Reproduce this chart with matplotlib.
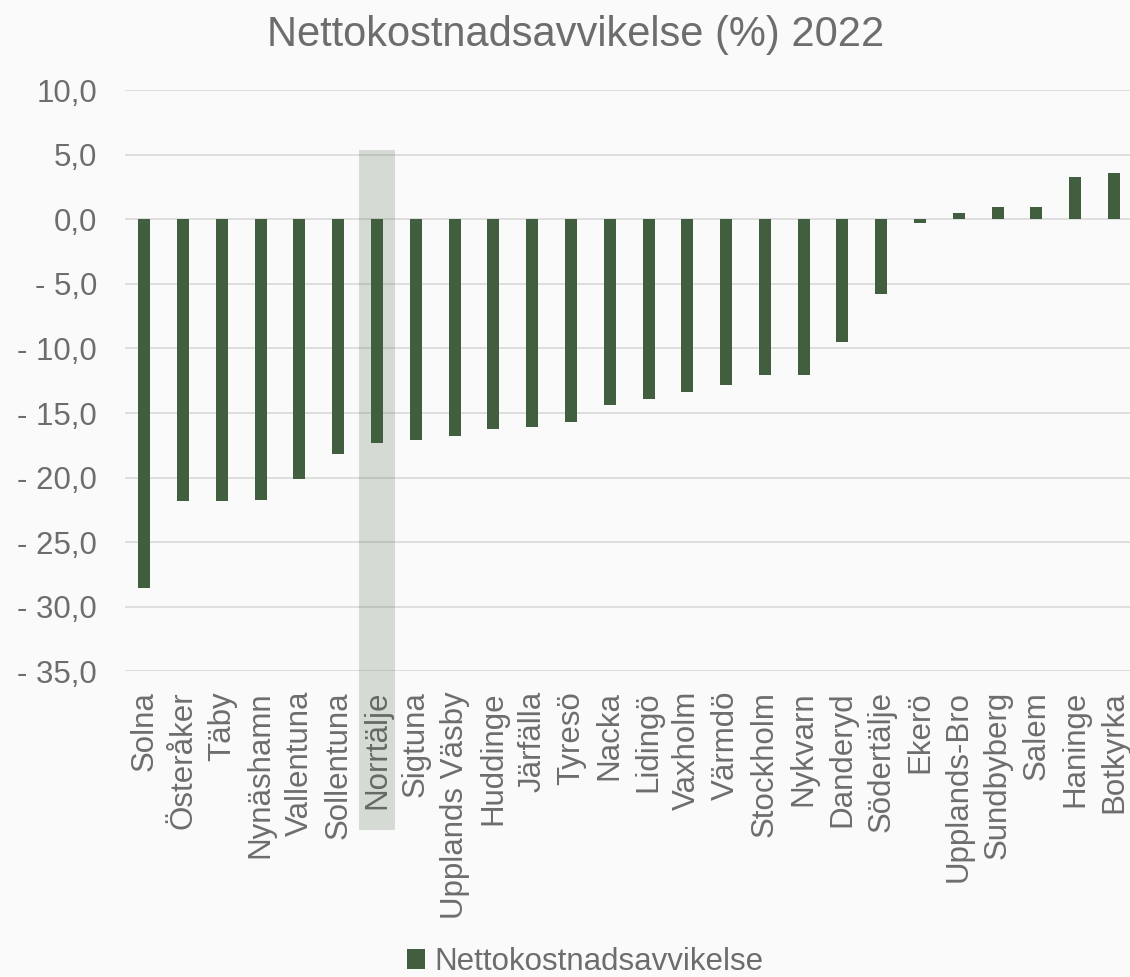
import matplotlib.pyplot as plt
from matplotlib.patches import Rectangle, Patch
from matplotlib.ticker import FuncFormatter

kommuner = ["Solna", "Österåker", "Täby", "Nynäshamn", "Vallentuna", "Sollentuna",
            "Norrtälje", "Sigtuna", "Upplands Väsby", "Huddinge", "Järfälla", "Tyresö",
            "Nacka", "Lidingö", "Vaxholm", "Värmdö", "Stockholm", "Nykvarn", "Danderyd",
            "Södertälje", "Ekerö", "Upplands-Bro", "Sundbyberg", "Salem", "Haninge",
            "Botkyrka"]
avvikelse = [-28.5, -21.8, -21.8, -21.75, -20.1, -18.2, -17.3, -17.1, -16.75, -16.25,
             -16.1, -15.7, -14.4, -13.9, -13.4, -12.8, -12.05, -12.05, -9.5, -5.8,
             -0.26, 0.49, 0.93, 0.98, 3.25, 3.56]
markerad = "Norrtälje"

bar_color = "#415f3f"
text_color = "#6d6d6d"
bg = "#fafafa"

plt.rcParams["font.family"] = ["Liberation Sans", "DejaVu Sans"]

fig = plt.figure(figsize=(11.3, 9.77), dpi=100, facecolor=bg)
ax = fig.add_axes([0.1105, 0.3127, 0.8925, 0.5951], facecolor=bg)

x = list(range(len(kommuner)))
ax.bar(x, avvikelse, width=0.31, color=bar_color, zorder=3)

ax.set_xlim(-0.5, len(kommuner) - 0.5)
ax.set_ylim(-35, 10)
ax.set_yticks(range(-35, 11, 5))


def fmt(v, pos):
    s = f"{abs(v):.1f}".replace(".", ",")
    return "- " + s if v < 0 else s


ax.yaxis.set_major_formatter(FuncFormatter(fmt))
ax.grid(axis="y", color="#d9d9d9", linewidth=1.2, zorder=0)
ax.set_axisbelow(True)
for sp in ax.spines.values():
    sp.set_visible(False)

ax.set_xticks(x)
ax.set_xticklabels(kommuner, rotation=90, fontsize=22.5, color=text_color)
ax.tick_params(axis="x", length=0, pad=14)
ax.tick_params(axis="y", length=0, pad=20, labelsize=22.5, labelcolor=text_color)

# highlighted kommun, drawn as a light overlay over bar and label
i = kommuner.index(markerad)
band = Rectangle((i - 0.475, -47.3), 0.95, 47.3 + 5.36, transform=ax.transData,
                 facecolor=bar_color, alpha=0.2, edgecolor="none",
                 clip_on=False, zorder=10)
ax.add_patch(band)

fig.text(0.509, 0.964, "Nettokostnadsavvikelse (%) 2022", ha="center", va="center",
         fontsize=30, color=text_color)

fig.legend(handles=[Patch(facecolor=bar_color, label="Nettokostnadsavvikelse")],
           loc="center", bbox_to_anchor=(0.518, 0.015), frameon=False,
           fontsize=22.5, labelcolor=text_color, handlelength=0.6, handleheight=0.6,
           handletextpad=0.3)

fig.savefig("out.png", dpi=100, facecolor=bg)
